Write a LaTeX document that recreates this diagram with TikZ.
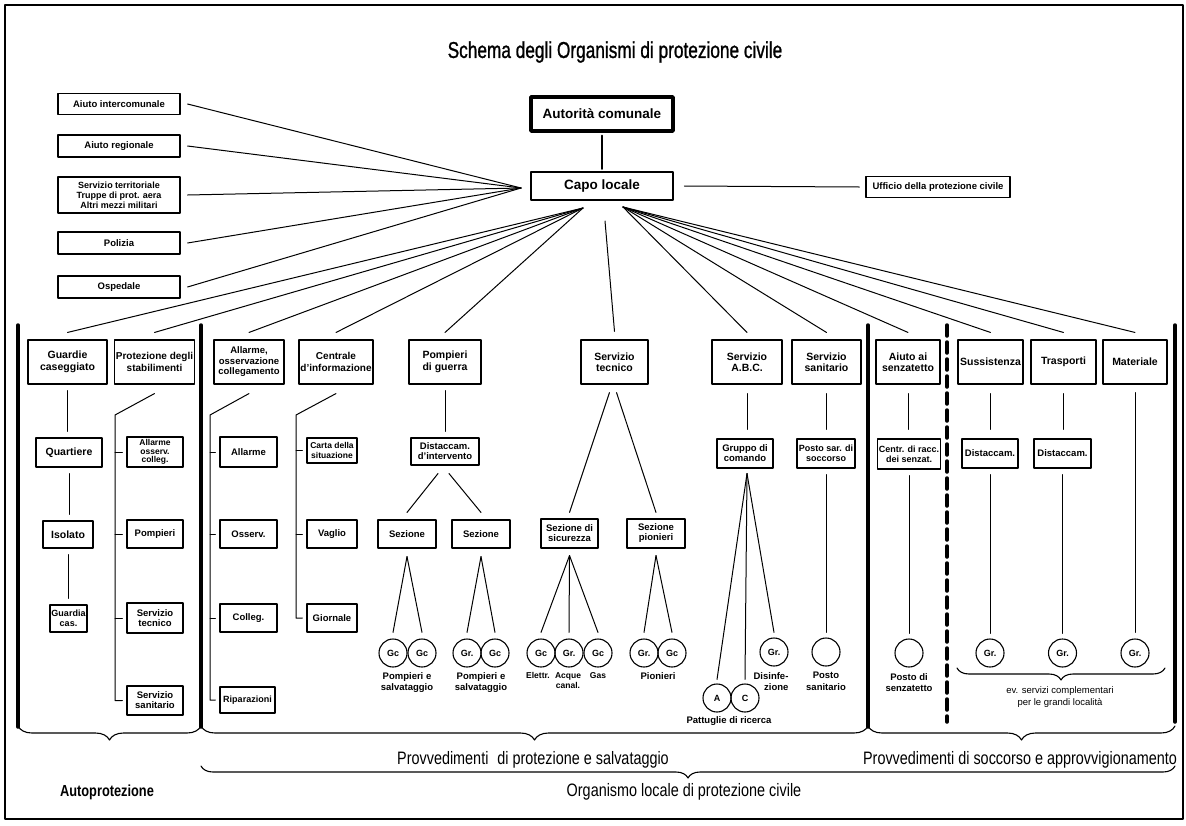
\documentclass[tikz,border=0pt]{standalone}
\usepackage{fontspec}
\setmainfont{Liberation Sans}
\newfontfamily\condfont{Liberation Sans}[FakeStretch=0.8]
\newfontfamily\titlefont{Liberation Sans}[FakeStretch=0.75,FakeBold=1]
\usetikzlibrary{decorations.pathreplacing}

\newcommand{\boxfont}{\fontsize{10.5}{11.5}\selectfont\bfseries}
\newcommand{\subfont}{\fontsize{9.5}{10}\selectfont\bfseries}
\newcommand{\sidefont}{\fontsize{9.5}{10}\selectfont\bfseries}
\newcommand{\labfont}{\fontsize{9.5}{11.5}\selectfont\bfseries}
\newcommand{\circfont}{\fontsize{9}{10}\selectfont\bfseries}
\newcommand{\bigfont}{\condfont\fontsize{18}{20}\selectfont}

\tikzset{
  box/.style={draw, line width=1.1pt, inner sep=1pt, align=center, font=\boxfont},
  headbox/.style={box, minimum height=44pt},
  subbox/.style={box, font=\subfont},
  sidebox/.style={box, minimum width=122pt, font=\sidefont},
  grp/.style={draw, circle, line width=1.1pt, minimum size=28pt, inner sep=0pt, font=\circfont},
  link/.style={line width=1pt},
  vlink/.style={link, shorten <=6pt, shorten >=6pt},
  heavy/.style={line width=3.5pt},
  lab/.style={anchor=north, inner sep=0pt, align=center, font=\labfont},
  bigtext/.style={anchor=base, inner sep=0pt, font=\bigfont},
  curly/.style={decorate, line width=1.1pt, decoration={brace, mirror, amplitude=#1}},
}

\begin{document}
\begin{tikzpicture}[x=1pt,y=-1pt,line cap=round,line join=round]
  \path[use as bounding box] (0,0) rectangle (1186,825);
  \draw[line width=1.5pt] (5,5) rectangle (1183,819);

  % title and head
  \node[inner sep=0pt, font=\titlefont\fontsize{23}{26}\selectfont] (title) at (615,52)
    {Schema degli Organismi di protezione civile};
  \node[box, line width=3.5pt, minimum width=142pt, minimum height=34pt,
    font=\fontsize{13.5}{15}\selectfont\bfseries] (autorita) at (602,114) {Autorità comunale};
  \node[box, line width=2.5pt, minimum width=142pt, minimum height=28pt,
    font=\fontsize{13.5}{15}\selectfont\bfseries] (capo) at (602,186) {Capo locale};
  \node[box, minimum width=144pt, minimum height=21pt, font=\sidefont] (ufficio) at (938,187)
    {Ufficio della protezione civile};
  \draw[line width=2.5pt, shorten <=3pt, shorten >=2pt] (autorita) -- (capo);
  \draw[link] ([xshift=10pt]capo.east) -- ([xshift=-6pt]ufficio.west);

  % outside help
  \node[sidebox, minimum height=21pt] (aiutoint) at (119,104) {Aiuto intercomunale};
  \node[sidebox, minimum height=22pt] (aiutoreg) at (119,146) {Aiuto regionale};
  \node[sidebox, minimum height=36pt, font=\fontsize{9}{10}\selectfont\bfseries] (servter) at (119,195)
    {Servizio territoriale\\Truppe di prot. aera\\Altri mezzi militari};
  \node[sidebox, minimum height=22pt] (polizia) at (119,243) {Polizia};
  \node[sidebox, minimum height=22pt] (ospedale) at (119,287) {Ospedale};

  \coordinate (capoW) at (521,188);
  \coordinate (capoSW) at (583,208);
  \coordinate (capoSE) at (623,207);
  \coordinate (capoS) at (605,221);
  \foreach \n in {aiutoint,aiutoreg,servter,polizia,ospedale}
    \draw[link] ([xshift=7pt]\n.east) -- (capoW);

  % services
  \node[headbox, minimum width=79pt] (guardie) at (67.5,362) {Guardie\\caseggiato};
  \node[headbox, minimum width=79pt, font=\fontsize{10}{11.5}\selectfont\bfseries] (protezione) at (154.5,362)
    {Protezione degli\\stabilimenti};
  \node[headbox, minimum width=70pt, font=\fontsize{9.5}{10.5}\selectfont\bfseries] (allarme) at (249,362)
    {Allarme,\\osservazione\\collegamento};
  \node[headbox, minimum width=74pt, font=\fontsize{10}{11.5}\selectfont\bfseries] (centrale) at (336,362)
    {Centrale\\d'informazione};
  \node[headbox, minimum width=72pt] (pompieri) at (445,362) {Pompieri\\di guerra};
  \node[headbox, minimum width=67pt] (tecnico) at (614.5,362) {Servizio\\tecnico};
  \node[headbox, minimum width=70pt] (abc) at (747,362) {Servizio\\A.B.C.};
  \node[headbox, minimum width=69pt] (sanitario) at (826.5,362) {Servizio\\sanitario};
  \node[headbox, minimum width=64pt] (senzatetto) at (908,362) {Aiuto ai\\senzatetto};
  \node[headbox, minimum width=65pt] (sussistenza) at (990.5,362) {Sussistenza};
  \node[headbox, minimum width=65pt] (trasporti) at (1063.5,362) {Trasporti};
  \node[headbox, minimum width=64pt] (materiale) at (1135,362) {Materiale};

  \foreach \n in {guardie,protezione,allarme,centrale,pompieri}
    \draw[link] (capoSW) -- ([yshift=7pt]\n.north);
  \foreach \n in {abc,sanitario,senzatetto,sussistenza,trasporti,materiale}
    \draw[link] (capoSE) -- ([yshift=7pt]\n.north);
  \draw[link] (capoS) -- ([yshift=8pt]tecnico.north);

  % Guardie caseggiato
  \node[subbox, minimum width=66pt, minimum height=29pt, font=\boxfont] (quartiere) at (69,452.5) {Quartiere};
  \node[subbox, minimum width=50pt, minimum height=27pt, font=\boxfont] (isolato) at (68,534.5) {Isolato};
  \node[subbox, minimum width=37pt, minimum height=27pt, font=\fontsize{9}{9.5}\selectfont\bfseries] (guardiacas)
    at (68.5,618.5) {Guardia\\cas.};
  \draw[vlink] (guardie.south) -- (guardie.south |- quartiere.north);
  \draw[vlink] (quartiere.south) -- (quartiere.south |- isolato.north);
  \draw[vlink] (isolato.south) -- (isolato.south |- guardiacas.north);

  % Protezione degli stabilimenti
  \node[subbox, minimum width=56pt, minimum height=30pt, font=\fontsize{8.5}{8.8}\selectfont\bfseries] (pall) at (155,452)
    {Allarme\\osserv.\\colleg.};
  \node[subbox, minimum width=56pt, minimum height=28pt] (ppom) at (155,534) {Pompieri};
  \node[subbox, minimum width=56pt, minimum height=30pt] (ptec) at (155,618) {Servizio\\tecnico};
  \node[subbox, minimum width=56pt, minimum height=29pt] (psan) at (155,700.5) {Servizio\\sanitario};
  \coordinate (pk) at (115,415);
  \draw[link] ([yshift=-9pt]protezione.south) -- (pk) -- (pk |- psan.west) -- ([xshift=-4pt]psan.west);
  \foreach \n in {pall,ppom,ptec}
    \draw[link] (pk |- \n.west) -- ([xshift=-4pt]\n.west);

  % Allarme, osservazione, collegamento
  \node[subbox, minimum width=57pt, minimum height=30pt] (aall) at (248.5,452) {Allarme};
  \node[subbox, minimum width=57pt, minimum height=28pt] (aoss) at (248.5,534) {Osserv.};
  \node[subbox, minimum width=57pt, minimum height=28pt] (acol) at (248.5,618) {Colleg.};
  \node[subbox, minimum width=55pt, minimum height=26pt, font=\fontsize{9}{10}\selectfont\bfseries] (arip)
    at (247.5,700) {Riparazioni};
  \coordinate (ak) at (210,415);
  \draw[link] ([yshift=-9pt]allarme.south) -- (ak) -- (ak |- arip.west) -- ([xshift=-4pt]arip.west);
  \foreach \n in {aall,aoss,acol}
    \draw[link] (ak |- \n.west) -- ([xshift=-4pt]\n.west);

  % Centrale d'informazione
  \node[subbox, minimum width=50pt, minimum height=25pt, font=\fontsize{8.5}{9.5}\selectfont\bfseries] (ccar)
    at (332,450.5) {Carta della\\situazione};
  \node[subbox, minimum width=50pt, minimum height=28pt] (cvag) at (332,534) {Vaglio};
  \node[subbox, minimum width=50pt, minimum height=28pt] (cgio) at (332,618) {Giornale};
  \coordinate (ck) at (296,415);
  \draw[link] ([yshift=-9pt]centrale.south) -- (ck) -- (ck |- cgio.west) -- ([xshift=-4pt]cgio.west);
  \foreach \n in {ccar,cvag}
    \draw[link] (ck |- \n.west) -- ([xshift=-4pt]\n.west);

  % Pompieri di guerra
  \node[subbox, minimum width=68pt, minimum height=27pt] (distint) at (445,451.5) {Distaccam.\\d'intervento};
  \node[subbox, minimum width=58pt, minimum height=28pt] (sez1) at (407,534) {Sezione};
  \node[subbox, minimum width=58pt, minimum height=28pt] (sez2) at (481,534) {Sezione};
  \node[grp] (gc1) at (393,653) {Gc};
  \node[grp] (gc2) at (422,653) {Gc};
  \node[grp] (gc3) at (467,653) {Gr.};
  \node[grp] (gc4) at (495,653) {Gc};
  \draw[vlink] (pompieri.south) -- (pompieri.south |- distint.north);
  \draw[link] ([xshift=-7pt,yshift=-8pt]distint.south) -- ([yshift=7pt]sez1.north);
  \draw[link] ([xshift=4pt,yshift=-8pt]distint.south) -- ([yshift=7pt]sez2.north);
  \foreach \s/\a/\b in {sez1/gc1/gc2,sez2/gc3/gc4}{
    \draw[link] ([yshift=-8pt]\s.south) -- ([yshift=6pt]\a.north);
    \draw[link] ([yshift=-8pt]\s.south) -- ([yshift=6pt]\b.north);
  }
  \node[lab] (lpomp1) at (407,672) {Pompieri e\\salvataggio};
  \node[lab] (lpomp2) at (481,672) {Pompieri e\\salvataggio};

  % Servizio tecnico
  \node[subbox, minimum width=57pt, minimum height=29pt] (sezsic) at (569.5,533.5) {Sezione di\\sicurezza};
  \node[subbox, minimum width=58pt, minimum height=29pt] (sezpion) at (656,533.5) {Sezione\\pionieri};
  \node[grp] (gc5) at (541,653) {Gc};
  \node[grp] (gc6) at (569,653) {Gr.};
  \node[grp] (gc7) at (598,653) {Gc};
  \node[grp] (gc8) at (644,653) {Gr.};
  \node[grp] (gc9) at (672,653) {Gc};
  \draw[link] ([xshift=-5pt,yshift=-8pt]tecnico.south) -- ([yshift=6pt]sezsic.north);
  \draw[link] ([xshift=2pt,yshift=-8pt]tecnico.south) -- ([yshift=6pt]sezpion.north);
  \foreach \g in {gc5,gc6,gc7}
    \draw[link] ([yshift=-7pt]sezsic.south) -- ([yshift=6pt]\g.north);
  \foreach \g in {gc8,gc9}
    \draw[link] ([yshift=-7pt]sezpion.south) -- ([yshift=6pt]\g.north);
  \node[lab, font=\fontsize{8.5}{10}\selectfont\bfseries] (lelet) at (538,672) {Elettr.};
  \node[lab, font=\fontsize{8.5}{10}\selectfont\bfseries] (lacque) at (568,672) {Acque\\canal.};
  \node[lab, font=\fontsize{8.5}{10}\selectfont\bfseries] (lgas) at (598,672) {Gas};
  \node[lab] (lpion) at (658,672) {Pionieri};

  % Servizio A.B.C.
  \node[subbox, minimum width=56pt, minimum height=29pt] (gruppo) at (745,453.5) {Gruppo di\\comando};
  \node[grp] (pa) at (717,698) {A};
  \node[grp] (pc) at (745,698) {C};
  \node[grp] (gcdis) at (774,652) {Gr.};
  \draw[link, shorten <=9pt, shorten >=9pt] (abc.south) -- (abc.south |- gruppo.north);
  \coordinate (gk) at ([xshift=2pt,yshift=-5pt]gruppo.south);
  \draw[link] (gk) -- ([yshift=4pt]pa.north);
  \draw[link] (gk) -- ([yshift=4pt]pc.north);
  \draw[link] (gk) -- ([yshift=5pt]gcdis.north);
  \node[lab, align=right] (ldis) at (771,672) {Disinfe-\\zione};
  \node[lab] (lpatt) at (729,716) {Pattuglie di ricerca};

  % Servizio sanitario, aiuto ai senzatetto, approvvigionamento
  \node[subbox, minimum width=58pt, minimum height=29pt, font=\fontsize{9}{10}\selectfont\bfseries] (postosar)
    at (826,453.5) {Posto sar. di\\soccorso};
  \node[subbox, minimum width=60pt, minimum height=30pt, font=\fontsize{9}{10}\selectfont\bfseries] (centr)
    at (909,454) {Centr. di racc.\\dei senzat.};
  \node[subbox, minimum width=56pt, minimum height=29pt] (distsus) at (990,453.5) {Distaccam.};
  \node[subbox, minimum width=57pt, minimum height=29pt] (disttra) at (1062.5,453.5) {Distaccam.};
  \node[grp] (circsan) at (826,652) {};
  \node[grp] (circsenz) at (909,653) {};
  \node[grp] (grsus) at (990,653) {Gr.};
  \node[grp] (grtra) at (1062.5,653) {Gr.};
  \node[grp] (grmat) at (1135,653) {Gr.};
  \foreach \t/\m/\c in {sanitario/postosar/circsan,senzatetto/centr/circsenz,
                        sussistenza/distsus/grsus,trasporti/disttra/grtra}{
    \draw[link, shorten <=9pt, shorten >=9pt] (\t.south) -- (\t.south |- \m.north);
    \draw[link, shorten <=6pt, shorten >=5pt] (\m.south) -- (\m.south |- \c.north);
  }
  \draw[link, shorten <=8pt, shorten >=6pt] (materiale.south) -- (materiale.south |- grmat.north);
  \node[lab] (lpostosan) at (826,672) {Posto\\sanitario};
  \node[lab] (lpostosenz) at (909,673) {Posto di\\senzatetto};
  \draw[curly=12pt] (957,668) -- (1165,668);
  \node[lab, font=\fontsize{9.5}{12}\selectfont] (lev) at (1060,686)
    {ev. servizi complementari\\per le grandi località};

  % separators
  \draw[heavy] (18,325) -- (18,727);
  \draw[heavy] (201,325) -- (201,727);
  \draw[heavy] (868,325) -- (868,727);
  \draw[heavy] (1175,325) -- (1175,722);
  \draw[heavy, dash pattern=on 11pt off 6pt] (947,325) -- (947,722);

  % groupings
  \draw[curly=14pt] (18,726) -- (201,726);
  \draw[curly=14pt] (201,726) -- (868,726);
  \draw[curly=14pt] (868,726) -- (1175,726);
  \draw[curly=12pt] (201,766) -- (1175,766);
  \node[bigtext] (protsalv) at (533,764) {Provvedimenti\hspace{5pt} di protezione e salvataggio};
  \node[bigtext] (soccorso) at (1020,764) {Provvedimenti di soccorso e approvvigionamento};
  \node[bigtext, font=\condfont\bfseries\fontsize{16}{18}\selectfont] (autoprot) at (107,796) {Autoprotezione};
  \node[bigtext] (organismo) at (684,796) {Organismo locale di protezione civile};
\end{tikzpicture}
\end{document}
